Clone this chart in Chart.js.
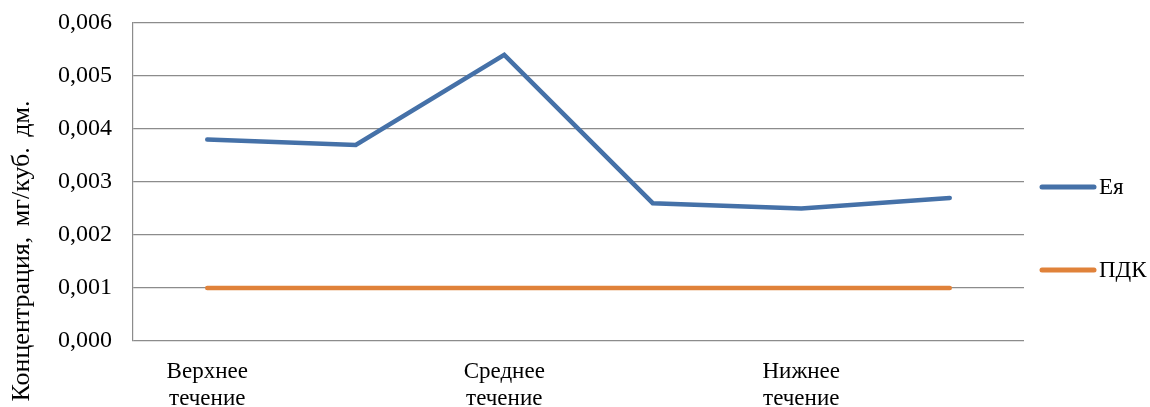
<!DOCTYPE html>
<html lang="ru">
<head>
<meta charset="utf-8">
<title>Концентрация</title>
<script src="https://cdn.jsdelivr.net/npm/chart.js@4/dist/chart.umd.min.js"></script>
<style>
  html, body { margin: 0; padding: 0; background: #ffffff; }
  #wrap { width: 1150px; height: 407px; }
</style>
</head>
<body>
<div id="wrap"><canvas id="chart" width="1150" height="407"></canvas></div>
<script>
// Sampling points along the river; only every other one carries a caption
const categories = [['Верхнее', 'течение'], '', ['Среднее', 'течение'], '', ['Нижнее', 'течение'], ''];
// Measured concentration, mg per cubic dm
const seriesEya = [0.0038, 0.0037, 0.0054, 0.0026, 0.0025, 0.0027];
// Maximum permissible concentration
const seriesPdk = [0.001, 0.001, 0.001, 0.001, 0.001, 0.001];
const seriesNames = ['Ея', 'ПДК'];
const yTicks = [0, 0.001, 0.002, 0.003, 0.004, 0.005, 0.006];
const yTitle = 'Концентрация, мг/куб. дм.';

const FONT = '"Liberation Serif", "Times New Roman", serif';
const BLUE = '#4571a8';
const ORANGE = '#e0823a';
const GRID = '#8c8c8c';

// Rotated axis caption on the left
const yTitlePlugin = {
  id: 'yTitle',
  afterDraw(chart) {
    const ctx = chart.ctx;
    ctx.save();
    ctx.translate(22, 251);
    ctx.rotate(-Math.PI / 2);
    ctx.font = '26px ' + FONT;
    ctx.fillStyle = '#000';
    ctx.textAlign = 'center';
    ctx.textBaseline = 'middle';
    ctx.wordSpacing = '4px';
    ctx.fillText(yTitle, 0, 0);
    ctx.restore();
  }
};

// Legend on the right with line samples
const legendPlugin = {
  id: 'sideLegend',
  afterDraw(chart) {
    const ctx = chart.ctx;
    const rows = [187, 270];
    chart.data.datasets.forEach((ds, i) => {
      const y = rows[i];
      ctx.save();
      ctx.strokeStyle = ds.borderColor;
      ctx.lineWidth = 5;
      ctx.lineCap = 'round';
      ctx.beginPath();
      ctx.moveTo(1042, y);
      ctx.lineTo(1094, y);
      ctx.stroke();
      ctx.font = '23px ' + FONT;
      ctx.fillStyle = '#000';
      ctx.textAlign = 'left';
      ctx.textBaseline = 'middle';
      ctx.fillText(ds.label, 1099, y + 1);
      ctx.restore();
    });
  }
};

new Chart(document.getElementById('chart'), {
  type: 'line',
  data: {
    labels: categories,
    datasets: [
      {
        label: seriesNames[0],
        data: seriesEya,
        borderColor: BLUE,
        backgroundColor: BLUE,
        borderWidth: 4.5,
        borderCapStyle: 'round',
        borderJoinStyle: 'miter',
        pointRadius: 0,
        tension: 0
      },
      {
        label: seriesNames[1],
        data: seriesPdk,
        borderColor: ORANGE,
        backgroundColor: ORANGE,
        borderWidth: 4.5,
        borderCapStyle: 'round',
        pointRadius: 0,
        tension: 0
      }
    ]
  },
  options: {
    responsive: false,
    animation: false,
    events: [],
    layout: { padding: { left: 0, top: 23, right: 126, bottom: 0 } },
    plugins: {
      legend: { display: false },
      tooltip: { enabled: false },
      title: { display: false }
    },
    scales: {
      x: {
        offset: true,
        grid: { display: false, drawTicks: false },
        border: { display: false },
        ticks: {
          autoSkip: false,
          maxRotation: 0,
          minRotation: 0,
          padding: 18,
          color: '#000',
          font: { family: FONT, size: 23, lineHeight: 1.15 }
        },
        afterFit(scale) {
          scale.height = 66;
          scale.paddingLeft = 0;
          scale.paddingRight = 0;
        }
      },
      y: {
        min: 0,
        max: 0.006,
        afterBuildTicks(scale) { scale.ticks = yTicks.map(v => ({ value: v })); },
        grid: { color: GRID, lineWidth: 1.2, drawTicks: false },
        border: { display: true, color: GRID, width: 1.2 },
        ticks: {
          padding: 21,
          color: '#000',
          font: { family: FONT, size: 24 },
          callback: v => Number(v).toFixed(3).replace('.', ',')
        },
        afterFit(scale) {
          scale.width = 133;
          scale.paddingTop = 0;
          scale.paddingBottom = 0;
        }
      }
    }
  },
  plugins: [yTitlePlugin, legendPlugin]
});
</script>
</body>
</html>
